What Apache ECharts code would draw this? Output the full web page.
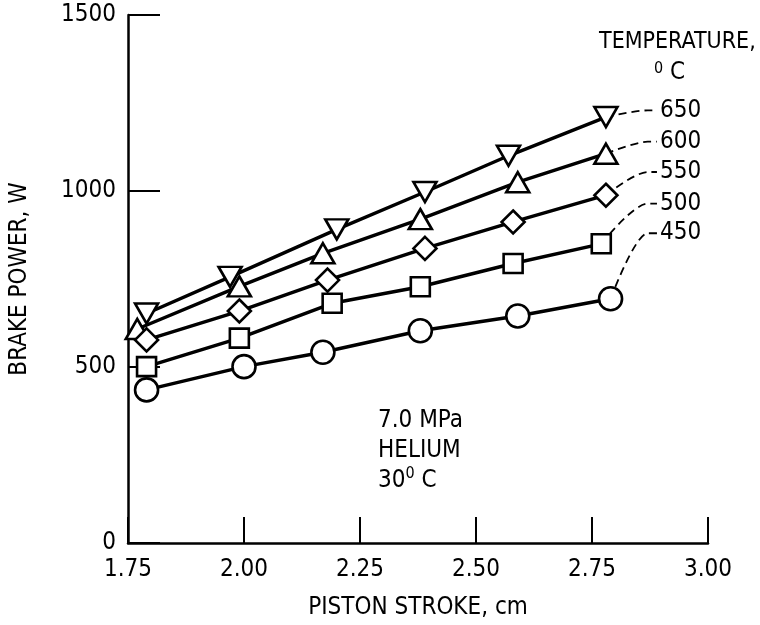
<!DOCTYPE html>
<html>
<head>
<meta charset="utf-8">
<script src="https://cdn.jsdelivr.net/npm/echarts@6/dist/echarts.min.js"></script>
<style>
  html, body { margin: 0; padding: 0; background: #fff; }
  #main { width: 760px; height: 625px; }
</style>
</head>
<body>
<div id="main"></div>
<script>
// 数据
var temps = ['650', '600', '550', '500', '450'];
var symbols = ['triangle', 'triangle', 'diamond', 'rect', 'circle'];
var rotates = [180, 0, 0, 0, 0];
var sizes = [[23, 20], [23, 20], 23, 19, 23];

var stroke650 = [1.79, 1.97, 2.20, 2.39, 2.57, 2.78];
var power650 = [652, 756, 891, 997, 1100, 1210];
var stroke600 = [1.77, 1.99, 2.17, 2.38, 2.59, 2.78];
var power600 = [608, 729, 823, 920, 1025, 1106];
var stroke550 = [1.79, 1.99, 2.18, 2.39, 2.58, 2.78];
var power550 = [577, 659, 747, 837, 912, 988];
var stroke500 = [1.79, 1.99, 2.19, 2.38, 2.58, 2.77];
var power500 = [501, 582, 681, 728, 794, 850];
var stroke450 = [1.79, 2.00, 2.17, 2.38, 2.59, 2.79];
var power450 = [435, 501, 542, 603, 645, 694];

// 右侧标注的位置（数据坐标）
var labelY = [1229, 1140, 1054, 964, 880];
var labelBendX = 2.87;
var labelEndX = 2.89;

var xTicks = ['1.75', '2.00', '2.25', '2.50', '2.75', '3.00'];
var yTicks = [0, 500, 1000, 1500];

var strokes = [stroke650, stroke600, stroke550, stroke500, stroke450];
var powers = [power650, power600, power550, power500, power450];

var font = "'Liberation Sans Narrow', 'DejaVu Sans Condensed', sans-serif";

var myChart = echarts.init(document.querySelector('#main'));

var series = [];
for (let i = 0; i < temps.length; i++) {
  let pts = [];
  for (let j = 0; j < strokes[i].length; j++) {
    pts.push([strokes[i][j], powers[i][j]]);
  }
  let last = pts[pts.length - 1];
  // 虚线引线 + 温度标注
  series.push({
    name: temps[i] + '-lead',
    type: 'line',
    z: 1,
    symbol: 'none',
    silent: true,
    smooth: 0.3,
    lineStyle: { color: '#000', width: 1.8, type: [8, 5] },
    endLabel: {
      show: true,
      distance: 3,
      formatter: temps[i],
      color: '#000',
      fontFamily: font,
      fontSize: 24
    },
    data: [last, [labelBendX, labelY[i]], [labelEndX, labelY[i]]]
  });
  series.push({
    name: temps[i],
    type: 'line',
    z: 3,
    symbol: symbols[i],
    symbolRotate: rotates[i],
    symbolSize: sizes[i],
    showAllSymbol: true,
    lineStyle: { color: '#000', width: 3.4 },
    itemStyle: { color: '#fff', borderColor: '#000', borderWidth: 2.6 },
    data: pts
  });
}

var option = {
  animation: false,
  backgroundColor: '#fff',
  title: [
    {
      text: 'TEMPERATURE,',
      left: 594,
      top: 26,
      textStyle: { fontFamily: font, fontSize: 23, fontWeight: 'normal', color: '#000' }
    },
    {
      text: '{s|0}{n| C}',
      left: 649,
      top: 56,
      textStyle: {
        fontWeight: 'normal',
        rich: {
          s: { fontFamily: font, fontSize: 16, fontWeight: 'normal', color: '#000', verticalAlign: 'top' },
          n: { fontFamily: font, fontSize: 24, fontWeight: 'normal', color: '#000' }
        }
      }
    },
    {
      text: '{n|7.0 MPa}\n{n|HELIUM}\n{n|30}{s|0}{n| C}',
      left: 373,
      top: 401,
      textStyle: {
        fontWeight: 'normal',
        lineHeight: 30,
        rich: {
          s: { fontFamily: font, fontSize: 16, fontWeight: 'normal', color: '#000', verticalAlign: 'top', lineHeight: 30 },
          n: { fontFamily: font, fontSize: 24, fontWeight: 'normal', color: '#000', lineHeight: 30 }
        }
      }
    }
  ],
  grid: { left: 125, right: 52, top: 15, bottom: 81, containLabel: false },
  xAxis: {
    type: 'value',
    min: 1.75,
    max: 3.0,
    interval: 0.25,
    name: 'PISTON STROKE, cm',
    nameLocation: 'middle',
    nameGap: 53,
    nameTextStyle: { fontFamily: font, fontSize: 24, color: '#000' },
    axisLine: { show: true, onZero: false, lineStyle: { color: '#000', width: 2.5 } },
    axisTick: { show: true, inside: true, length: 26, lineStyle: { color: '#000', width: 2 } },
    axisLabel: {
      margin: 15,
      fontFamily: font,
      fontSize: 24,
      color: '#000',
      formatter: function (v) {
        var idx = Math.round((v - 1.75) / 0.25);
        return xTicks[idx];
      }
    },
    splitLine: { show: false }
  },
  yAxis: {
    type: 'value',
    min: yTicks[0],
    max: yTicks[yTicks.length - 1],
    interval: 500,
    name: 'BRAKE POWER, W',
    nameLocation: 'middle',
    nameGap: 96,
    nameTextStyle: { fontFamily: font, fontSize: 24, color: '#000' },
    axisLine: { show: true, lineStyle: { color: '#000', width: 2.5 } },
    axisTick: { show: true, inside: true, length: 32, lineStyle: { color: '#000', width: 2 } },
    axisLabel: {
      margin: 12,
      fontFamily: font,
      fontSize: 24,
      color: '#000',
      formatter: function (v) { return String(v); }
    },
    splitLine: { show: false }
  },
  series: series
};

myChart.setOption(option);
window.addEventListener('resize', function () {
  myChart.resize();
});
</script>
</body>
</html>
